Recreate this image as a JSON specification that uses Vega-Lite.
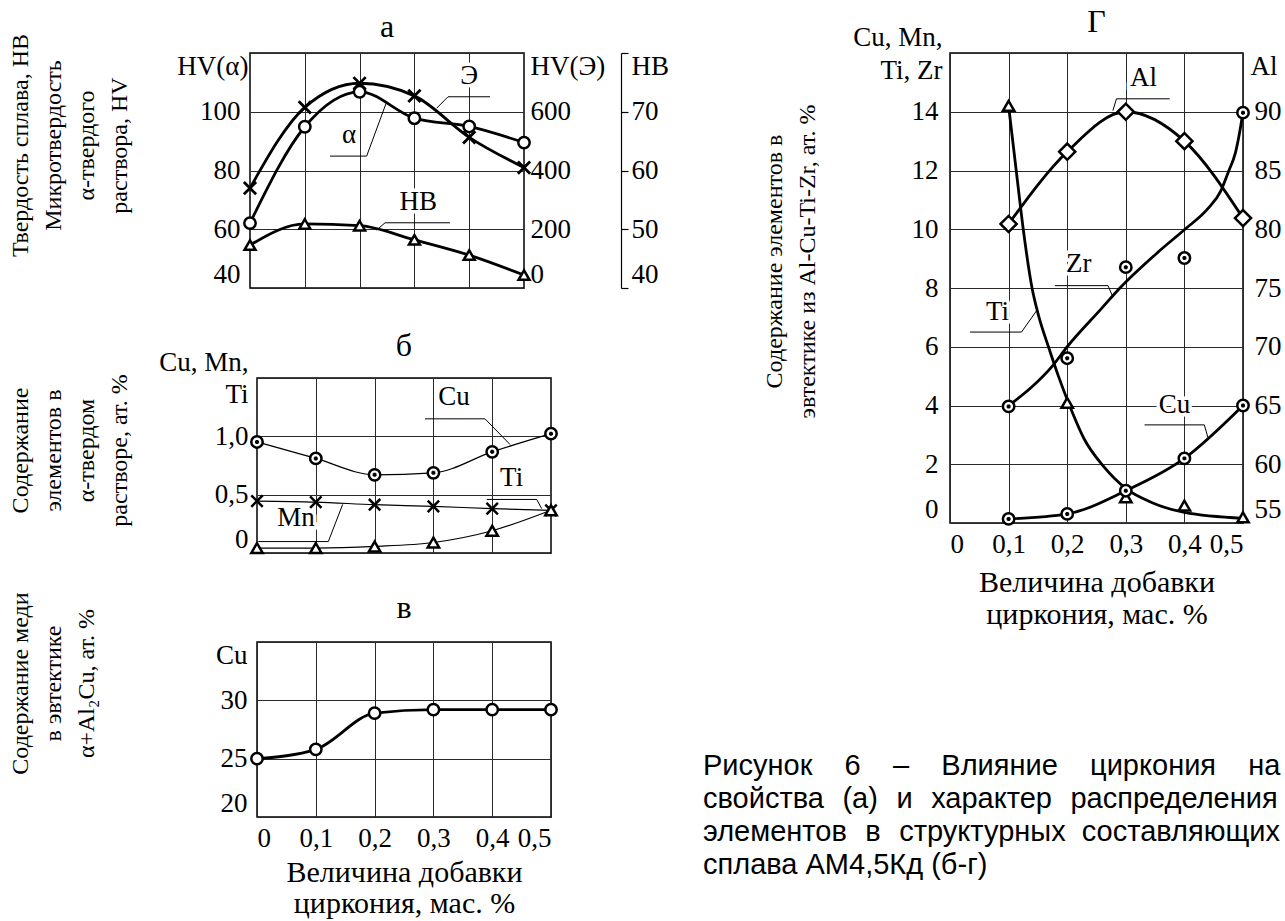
{
  "$schema": "https://vega.github.io/schema/vega-lite/v6.json",
  "autosize": {"type": "none"},
  "padding": {"left": 250, "top": 53, "right": 1035, "bottom": 868},
  "background": "white",
  "bounds": "flush",
  "spacing": 589,
  "config": {
    "font": "Liberation Serif",
    "view": {"stroke": "black", "strokeWidth": 1.5},
    "axis": {
      "labelFont": "Liberation Serif", "labelFontSize": 27, "labelColor": "black",
      "titleFont": "Liberation Serif", "titleFontSize": 24, "titleColor": "black", "titleFontWeight": "normal",
      "domain": false, "ticks": false, "gridColor": "#2a2a2a", "gridWidth": 1, "gridOpacity": 1,
      "labelOverlap": false, "labelBound": false
    },
    "title": {"font": "Liberation Serif", "fontSize": 32, "fontWeight": "normal", "color": "black", "frame": "group", "baseline": "bottom"}
  },
  "datasets": {
    "hardness": [
      {"x": 0, "hva": 62.1, "hve": 340, "hb": 47.3},
      {"x": 0.1, "hva": 94.9, "hve": 615, "hb": 50.9},
      {"x": 0.2, "hva": 106.8, "hve": 697, "hb": 50.6},
      {"x": 0.3, "hva": 97.8, "hve": 654, "hb": 48.2},
      {"x": 0.4, "hva": 95.0, "hve": 513, "hb": 45.6},
      {"x": 0.5, "hva": 89.5, "hve": 410, "hb": 42.2}
    ],
    "leadA": [
      {"g": "Э", "x": 0.3406, "y": 101.2}, {"g": "Э", "x": 0.3613, "y": 105.1}, {"g": "Э", "x": 0.438, "y": 105.1},
      {"g": "α", "x": 0.146, "y": 84.9}, {"g": "α", "x": 0.2129, "y": 84.9}, {"g": "α", "x": 0.2494, "y": 103.4},
      {"g": "HB", "x": 0.231, "y": 59.7}, {"g": "HB", "x": 0.2464, "y": 62.2}, {"g": "HB", "x": 0.365, "y": 62.2}
    ],
    "labA": [
      {"t": "Э", "x": 0.4, "y": 112.2},
      {"t": "α", "x": 0.181, "y": 92.1},
      {"t": "HB", "x": 0.307, "y": 69.3}
    ],
    "solid": [
      {"s": "Cu", "x": 0, "v": 0.952}, {"s": "Cu", "x": 0.1, "v": 0.811}, {"s": "Cu", "x": 0.2, "v": 0.670},
      {"s": "Cu", "x": 0.3, "v": 0.687}, {"s": "Cu", "x": 0.4, "v": 0.867}, {"s": "Cu", "x": 0.5, "v": 1.023},
      {"s": "Mn", "x": 0, "v": 0.445}, {"s": "Mn", "x": 0.1, "v": 0.436}, {"s": "Mn", "x": 0.2, "v": 0.414},
      {"s": "Mn", "x": 0.3, "v": 0.400}, {"s": "Mn", "x": 0.4, "v": 0.380}, {"s": "Mn", "x": 0.5, "v": 0.366},
      {"s": "Ti", "x": 0, "v": 0.042}, {"s": "Ti", "x": 0.1, "v": 0.042}, {"s": "Ti", "x": 0.2, "v": 0.056},
      {"s": "Ti", "x": 0.3, "v": 0.090}, {"s": "Ti", "x": 0.4, "v": 0.191}, {"s": "Ti", "x": 0.5, "v": 0.366}
    ],
    "leadB": [
      {"g": "Cu", "x": 0.2857, "y": 1.150}, {"g": "Cu", "x": 0.3878, "y": 1.150}, {"g": "Cu", "x": 0.4303, "y": 0.930},
      {"g": "Ti", "x": 0.3906, "y": 0.459}, {"g": "Ti", "x": 0.4757, "y": 0.459}, {"g": "Ti", "x": 0.4842, "y": 0.380},
      {"g": "Mn", "x": 0.0022, "y": 0.098}, {"g": "Mn", "x": 0.1213, "y": 0.098}, {"g": "Mn", "x": 0.1457, "y": 0.417}
    ],
    "labB": [
      {"t": "Cu", "x": 0.335, "y": 1.338},
      {"t": "Ti", "x": 0.433, "y": 0.645},
      {"t": "Mn", "x": 0.0663, "y": 0.298}
    ],
    "eutCu": [
      {"x": 0, "v": 25.0}, {"x": 0.1, "v": 25.8}, {"x": 0.2, "v": 28.9},
      {"x": 0.3, "v": 29.2}, {"x": 0.4, "v": 29.2}, {"x": 0.5, "v": 29.2}
    ],
    "markG": [
      {"s": "Ti", "x": 0.1, "v": 14.2}, {"s": "Ti", "x": 0.2, "v": 4.09}, {"s": "Ti", "x": 0.3, "v": 0.875}, {"s": "Ti", "x": 0.4, "v": 0.59}, {"s": "Ti", "x": 0.5, "v": 0.19},
      {"s": "Zr", "x": 0.1, "v": 3.97}, {"s": "Zr", "x": 0.2, "v": 5.61}, {"s": "Zr", "x": 0.3, "v": 8.71}, {"s": "Zr", "x": 0.4, "v": 9.02}, {"s": "Zr", "x": 0.5, "v": 13.97},
      {"s": "Cu", "x": 0.1, "v": 0.14}, {"s": "Cu", "x": 0.2, "v": 0.31}, {"s": "Cu", "x": 0.3, "v": 1.1}, {"s": "Cu", "x": 0.4, "v": 2.2}, {"s": "Cu", "x": 0.5, "v": 4.0},
      {"s": "Al", "x": 0.1, "v": 80.45}, {"s": "Al", "x": 0.2, "v": 86.6}, {"s": "Al", "x": 0.3, "v": 90.0}, {"s": "Al", "x": 0.4, "v": 87.5}, {"s": "Al", "x": 0.5, "v": 80.95}
    ],
    "curveG": [
      {"s": "Ti", "x": 0.1, "v": 14.2}, {"s": "Ti", "x": 0.113, "v": 12.0}, {"s": "Ti", "x": 0.125, "v": 10.0},
      {"s": "Ti", "x": 0.14, "v": 8.0}, {"s": "Ti", "x": 0.152, "v": 7.0}, {"s": "Ti", "x": 0.168, "v": 6.0},
      {"s": "Ti", "x": 0.185, "v": 5.0}, {"s": "Ti", "x": 0.204, "v": 4.0}, {"s": "Ti", "x": 0.229, "v": 2.86},
      {"s": "Ti", "x": 0.261, "v": 1.95}, {"s": "Ti", "x": 0.301, "v": 1.16}, {"s": "Ti", "x": 0.344, "v": 0.70},
      {"s": "Ti", "x": 0.4, "v": 0.36}, {"s": "Ti", "x": 0.5, "v": 0.16},
      {"s": "Zr", "x": 0.1, "v": 4.0}, {"s": "Zr", "x": 0.139, "v": 4.62}, {"s": "Zr", "x": 0.175, "v": 5.35},
      {"s": "Zr", "x": 0.2, "v": 6.0}, {"s": "Zr", "x": 0.258, "v": 7.29}, {"s": "Zr", "x": 0.29, "v": 8.0},
      {"s": "Zr", "x": 0.355, "v": 9.22}, {"s": "Zr", "x": 0.401, "v": 10.0}, {"s": "Zr", "x": 0.44, "v": 10.7},
      {"s": "Zr", "x": 0.462, "v": 11.3}, {"s": "Zr", "x": 0.476, "v": 12.0}, {"s": "Zr", "x": 0.487, "v": 12.6},
      {"s": "Zr", "x": 0.496, "v": 13.5}, {"s": "Zr", "x": 0.5, "v": 14.0}
    ],
    "leadG": [
      {"g": "Al", "x": 0.278, "y": 14.04}, {"g": "Al", "x": 0.284, "y": 14.44}, {"g": "Al", "x": 0.375, "y": 14.44},
      {"g": "Zr", "x": 0.1789, "y": 8.08}, {"g": "Zr", "x": 0.2697, "y": 8.08}, {"g": "Zr", "x": 0.278, "y": 7.69},
      {"g": "Ti", "x": 0.034, "y": 6.5}, {"g": "Ti", "x": 0.122, "y": 6.5}, {"g": "Ti", "x": 0.150, "y": 7.29},
      {"g": "Cu", "x": 0.332, "y": 3.34}, {"g": "Cu", "x": 0.434, "y": 3.34}, {"g": "Cu", "x": 0.44, "y": 2.92}
    ],
    "labG": [
      {"t": "Al", "x": 0.330, "y": 15.16},
      {"t": "Zr", "x": 0.2198, "y": 8.82},
      {"t": "Ti", "x": 0.081, "y": 7.19},
      {"t": "Cu", "x": 0.383, "y": 4.02}
    ],
    "caption": [
      {"line": 1, "text": "Рисунок\u00a0\u00a0\u00a0\u00a06\u00a0\u00a0\u00a0\u00a0–\u00a0\u00a0\u00a0\u00a0Влияние\u00a0\u00a0\u00a0\u00a0циркония\u00a0\u00a0\u00a0\u00a0на"},
      {"line": 2, "text": "свойства\u00a0\u00a0\u200a(а)\u00a0\u00a0\u200aи\u00a0\u00a0\u200aхарактер\u00a0\u00a0\u200aраспределения"},
      {"line": 3, "text": "элементов\u00a0\u00a0\u200aв\u00a0\u00a0\u200aструктурных\u00a0\u00a0составляющих"},
      {"line": 4, "text": "сплава АМ4,5Кд (б-г)"}
    ]
  },
  "vconcat": [
    {
      "hconcat": [
        {
          "vconcat": [
            {
              "title": {"text": "а", "offset": -11},
              "width": 274,
              "height": 235,
              "encoding": {
                "x": {"field": "x", "type": "quantitative", "scale": {"domain": [0, 0.5], "nice": false, "zero": false},
                      "axis": {"values": [0.1, 0.2, 0.3, 0.4], "grid": true, "labels": false, "title": null}}
              },
              "resolve": {"scale": {"y": "independent"}},
              "layer": [
                {
                  "layer": [
                    {
                      "data": {"name": "labA"},
                      "mark": {"type": "text", "font": "Liberation Serif", "fontSize": 27, "align": "center", "baseline": "middle", "color": "white", "stroke": "white", "strokeWidth": 7},
                      "encoding": {
                        "y": {"field": "y", "type": "quantitative", "scale": {"domain": [40, 120], "nice": false, "zero": false},
                              "axis": {"orient": "left", "values": [40, 60, 80, 100, 120], "grid": true, "labelFlush": true,
                                       "labelExpr": "datum.value == 120 ? 'HV(α)' : datum.label",
                                       "labelPadding": {"condition": {"test": "datum.value == 120", "value": 2}, "value": 10},
                                       "title": ["Твердость сплава, НВ", "Микротвердость", "α-твердого", "раствора, HV"],
                                       "titleX": -242, "titleY": 92, "titleAngle": -90, "titleAlign": "center", "titleBaseline": "top", "titleLineHeight": 33}},
                        "text": {"field": "t"}
                      }
                    },
                    {
                      "data": {"name": "leadA"},
                      "mark": {"type": "line", "color": "black", "strokeWidth": 1},
                      "encoding": {"y": {"field": "y", "type": "quantitative", "scale": {"domain": [40, 120], "nice": false, "zero": false}}, "detail": {"field": "g"}}
                    },
                    {
                      "data": {"name": "hardness"},
                      "mark": {"type": "line", "interpolate": "monotone", "color": "black", "strokeWidth": 2.8},
                      "encoding": {"y": {"field": "hva", "type": "quantitative", "scale": {"domain": [40, 120], "nice": false, "zero": false}}}
                    },
                    {
                      "data": {"name": "hardness"},
                      "mark": {"type": "point", "shape": "circle", "size": 130, "filled": true, "fill": "white", "fillOpacity": 1, "stroke": "black", "strokeWidth": 2.5, "opacity": 1},
                      "encoding": {"y": {"field": "hva", "type": "quantitative", "scale": {"domain": [40, 120], "nice": false, "zero": false}}}
                    },
                    {
                      "data": {"name": "labA"},
                      "mark": {"type": "text", "font": "Liberation Serif", "fontSize": 27, "align": "center", "baseline": "middle", "color": "black"},
                      "encoding": {"y": {"field": "y", "type": "quantitative", "scale": {"domain": [40, 120], "nice": false, "zero": false}}, "text": {"field": "t"}}
                    }
                  ]
                },
                {
                  "layer": [
                    {
                      "data": {"name": "hardness"},
                      "mark": {"type": "line", "interpolate": "monotone", "color": "black", "strokeWidth": 2.8},
                      "encoding": {"y": {"field": "hve", "type": "quantitative", "scale": {"domain": [0, 800], "nice": false, "zero": false},
                                         "axis": {"orient": "right", "values": [0, 200, 400, 600, 800], "grid": false, "labelFlush": true,
                                                  "labelExpr": "datum.value == 800 ? 'HV(Э)' : datum.label", "labelPadding": 6, "title": null}}}
                    },
                    {
                      "data": {"name": "hardness"},
                      "mark": {"type": "point", "shape": "M-1,-1L1,1M-1,1L1,-1", "size": 150, "filled": false, "stroke": "black", "strokeWidth": 2.8, "opacity": 1},
                      "encoding": {"y": {"field": "hve", "type": "quantitative", "scale": {"domain": [0, 800], "nice": false, "zero": false}}}
                    }
                  ]
                },
                {
                  "layer": [
                    {
                      "data": {"name": "hardness"},
                      "mark": {"type": "line", "interpolate": "monotone", "color": "black", "strokeWidth": 2.8},
                      "encoding": {"y": {"field": "hb", "type": "quantitative", "scale": {"domain": [40, 80], "nice": false, "zero": false},
                                         "axis": {"orient": "right", "offset": 97, "values": [40, 50, 60, 70, 80], "grid": false,
                                                  "domain": true, "domainColor": "black", "domainWidth": 1.2,
                                                  "ticks": true, "tickSize": 7, "tickColor": "black", "tickWidth": 1.2,
                                                  "labelFlush": true, "labelExpr": "datum.value == 80 ? 'HB' : datum.label", "labelPadding": 3, "title": null}}}
                    },
                    {
                      "data": {"name": "hardness"},
                      "mark": {"type": "point", "shape": "triangle-up", "size": 120, "filled": true, "fill": "white", "fillOpacity": 1, "stroke": "black", "strokeWidth": 2.5, "opacity": 1},
                      "encoding": {"y": {"field": "hb", "type": "quantitative", "scale": {"domain": [40, 80], "nice": false, "zero": false}}}
                    }
                  ]
                }
              ]
            },
            {
              "hconcat": [
                {"width": 7, "height": 175, "data": {"values": []}, "mark": {"type": "point", "opacity": 0}, "view": {"stroke": null}},
                {
                  "title": {"text": "б", "offset": -15},
                  "width": 294,
                  "height": 175,
                  "encoding": {
                    "x": {"field": "x", "type": "quantitative", "scale": {"domain": [0, 0.5], "nice": false, "zero": false},
                          "axis": {"values": [0.1, 0.2, 0.3, 0.4], "grid": true, "labels": false, "title": null}}
                  },
                  "layer": [
                    {
                      "data": {"name": "labB"},
                      "mark": {"type": "text", "font": "Liberation Serif", "fontSize": 27, "align": "center", "baseline": "middle", "color": "white", "stroke": "white", "strokeWidth": 7},
                      "encoding": {
                        "y": {"field": "y", "type": "quantitative", "scale": {"domain": [0, 1.5], "nice": false, "zero": false},
                              "axis": {"orient": "left", "values": [0, 0.5, 1, 1.5], "grid": true,
                                       "labelExpr": "datum.value == 1.5 ? ['Cu, Mn,', 'Ti'] : datum.value == 0 ? '0' : replace(format(datum.value, '.1f'), '.', ',')",
                                       "labelBaseline": {"condition": {"test": "datum.value == 0", "value": "bottom"}, "value": "middle"},
                                       "labelOffset": {"condition": {"test": "datum.value == 1.5", "value": -16}, "value": 0},
                                       "labelLineHeight": 32, "labelPadding": 9,
                                       "title": ["Содержание", "элементов в", "α-твердом", "растворе, ат. %"],
                                       "titleX": -249, "titleY": 72, "titleAngle": -90, "titleAlign": "center", "titleBaseline": "top", "titleLineHeight": 33}},
                        "text": {"field": "t"}
                      }
                    },
                    {
                      "data": {"name": "leadB"},
                      "mark": {"type": "line", "color": "black", "strokeWidth": 1},
                      "encoding": {"y": {"field": "y", "type": "quantitative"}, "detail": {"field": "g"}}
                    },
                    {
                      "data": {"name": "solid"},
                      "mark": {"type": "line", "interpolate": "monotone", "color": "black", "strokeWidth": 1.2},
                      "encoding": {"y": {"field": "v", "type": "quantitative"}, "detail": {"field": "s"}}
                    },
                    {
                      "data": {"name": "solid"},
                      "mark": {"type": "point", "size": 130, "filled": true, "fill": "white", "fillOpacity": 1, "stroke": "black", "strokeWidth": 2.5, "opacity": 1},
                      "encoding": {
                        "y": {"field": "v", "type": "quantitative"},
                        "shape": {"field": "s", "type": "nominal", "legend": null,
                                  "scale": {"domain": ["Cu", "Mn", "Ti"],
                                            "range": ["M-1,0A1,1,0,1,1,1,0A1,1,0,1,1,-1,0ZM-0.35,0L0.35,0M0,-0.35L0,0.35", "M-1,-1L1,1M-1,1L1,-1", "triangle-up"]}}
                      }
                    },
                    {
                      "data": {"name": "labB"},
                      "mark": {"type": "text", "font": "Liberation Serif", "fontSize": 27, "align": "center", "baseline": "middle", "color": "black"},
                      "encoding": {"y": {"field": "y", "type": "quantitative"}, "text": {"field": "t"}}
                    }
                  ]
                }
              ],
              "spacing": 0,
              "bounds": "flush"
            }
          ],
          "spacing": 90,
          "bounds": "flush"
        },
        {
          "title": {"text": "Г", "offset": -16},
          "width": 293,
          "height": 470,
          "encoding": {
            "x": {"field": "x", "type": "quantitative", "scale": {"domain": [0, 0.5], "nice": false, "zero": false},
                  "axis": {"values": [0, 0.1, 0.2, 0.3, 0.4, 0.5], "grid": true, "labelFlush": true, "labelPadding": 8,
                           "labelExpr": "datum.value == 0 ? '0' : replace(format(datum.value, '.1f'), '.', ',')",
                           "title": ["Величина добавки", "циркония, мас. %"], "titleFontSize": 30, "titlePadding": 10, "titleLineHeight": 32}}
          },
          "resolve": {"scale": {"y": "independent"}},
          "layer": [
            {
              "layer": [
                {
                  "data": {"name": "labG"},
                  "mark": {"type": "text", "font": "Liberation Serif", "fontSize": 27, "align": "center", "baseline": "middle", "color": "white", "stroke": "white", "strokeWidth": 7},
                  "encoding": {
                    "y": {"field": "y", "type": "quantitative", "scale": {"domain": [0, 16], "nice": false, "zero": false},
                          "axis": {"orient": "left", "values": [0, 2, 4, 6, 8, 10, 12, 14, 16], "grid": true,
                                   "labelExpr": "datum.value == 16 ? ['Cu, Mn,', 'Ti, Zr'] : datum.label",
                                   "labelBaseline": {"condition": {"test": "datum.value == 0", "value": "bottom"}, "value": "middle"},
                                   "labelOffset": {"condition": {"test": "datum.value == 16", "value": -16}, "value": 0},
                                   "labelLineHeight": 33,
                                   "labelPadding": {"condition": {"test": "datum.value == 16", "value": 8}, "value": 12},
                                   "title": ["Содержание элементов в", "эвтектике из Al-Cu-Ti-Zr, ат. %"],
                                   "titleX": -188, "titleY": 208, "titleAngle": -90, "titleAlign": "center", "titleBaseline": "top", "titleLineHeight": 33}},
                    "text": {"field": "t"}
                  }
                },
                {
                  "data": {"name": "leadG"},
                  "mark": {"type": "line", "color": "black", "strokeWidth": 1},
                  "encoding": {"y": {"field": "y", "type": "quantitative", "scale": {"domain": [0, 16], "nice": false, "zero": false}}, "detail": {"field": "g"}}
                },
                {
                  "data": {"name": "curveG"},
                  "mark": {"type": "line", "interpolate": "monotone", "color": "black", "strokeWidth": 2.8},
                  "encoding": {"y": {"field": "v", "type": "quantitative", "scale": {"domain": [0, 16], "nice": false, "zero": false}}, "detail": {"field": "s"}}
                },
                {
                  "data": {"name": "markG"},
                  "transform": [{"filter": "datum.s == 'Cu'"}],
                  "mark": {"type": "line", "interpolate": "monotone", "color": "black", "strokeWidth": 2.8},
                  "encoding": {"y": {"field": "v", "type": "quantitative", "scale": {"domain": [0, 16], "nice": false, "zero": false}}}
                },
                {
                  "data": {"name": "markG"},
                  "transform": [{"filter": "datum.s != 'Al'"}],
                  "mark": {"type": "point", "size": 130, "filled": true, "fill": "white", "fillOpacity": 1, "stroke": "black", "strokeWidth": 2.5, "opacity": 1},
                  "encoding": {
                    "y": {"field": "v", "type": "quantitative", "scale": {"domain": [0, 16], "nice": false, "zero": false}},
                    "shape": {"field": "s", "type": "nominal", "legend": null,
                              "scale": {"domain": ["Cu", "Ti", "Zr"], "range": ["M-1,-1L1,1M-1,1L1,-1", "triangle-up", "circle"]}}
                  }
                },
                {
                  "data": {"name": "labG"},
                  "mark": {"type": "text", "font": "Liberation Serif", "fontSize": 27, "align": "center", "baseline": "middle", "color": "black"},
                  "encoding": {"y": {"field": "y", "type": "quantitative", "scale": {"domain": [0, 16], "nice": false, "zero": false}}, "text": {"field": "t"}}
                }
              ]
            },
            {
              "layer": [
                {
                  "data": {"name": "markG"},
                  "transform": [{"filter": "datum.s == 'Al'"}],
                  "mark": {"type": "line", "interpolate": "monotone", "color": "black", "strokeWidth": 2.8},
                  "encoding": {"y": {"field": "v", "type": "quantitative", "scale": {"domain": [55, 95], "nice": false, "zero": false},
                                     "axis": {"orient": "right", "values": [55, 60, 65, 70, 75, 80, 85, 90, 95], "grid": false, "labelFlush": true,
                                              "labelExpr": "datum.value == 95 ? 'Al' : datum.label",
                                              "labelPadding": {"condition": {"test": "datum.value == 95", "value": 7}, "value": 11}, "title": null}}}
                },
                {
                  "data": {"name": "markG"},
                  "transform": [{"filter": "datum.s == 'Al'"}],
                  "mark": {"type": "point", "shape": "diamond", "size": 260, "filled": true, "fill": "white", "fillOpacity": 1, "stroke": "black", "strokeWidth": 2.5, "opacity": 1},
                  "encoding": {"y": {"field": "v", "type": "quantitative", "scale": {"domain": [55, 95], "nice": false, "zero": false}}}
                }
              ]
            }
          ]
        }
      ],
      "spacing": 700,
      "bounds": "flush"
    },
    {
      "hconcat": [
        {
          "hconcat": [
            {"width": 7, "height": 175, "data": {"values": []}, "mark": {"type": "point", "opacity": 0}, "view": {"stroke": null}},
            {
              "title": {"text": "в", "offset": -33},
              "width": 294,
              "height": 175,
              "data": {"name": "eutCu"},
              "encoding": {
                "x": {"field": "x", "type": "quantitative", "scale": {"domain": [0, 0.5], "nice": false, "zero": false},
                      "axis": {"values": [0, 0.1, 0.2, 0.3, 0.4, 0.5], "grid": true, "labelFlush": true, "labelPadding": 8,
                               "labelExpr": "datum.value == 0 ? '0' : replace(format(datum.value, '.1f'), '.', ',')",
                               "title": ["Величина добавки", "циркония, мас. %"], "titleFontSize": 30, "titlePadding": 6, "titleLineHeight": 31}},
                "y": {"field": "v", "type": "quantitative", "scale": {"domain": [20, 35], "nice": false, "zero": false},
                      "axis": {"orient": "left", "values": [20, 25, 30, 35], "grid": true, "labelFlush": true,
                               "labelExpr": "datum.value == 35 ? 'Cu' : datum.label", "labelPadding": 10,
                               "title": ["Содержание меди", "в эвтектике", "α+Al₂Cu, ат. %"],
                               "titleX": -249, "titleY": 41, "titleAngle": -90, "titleAlign": "center", "titleBaseline": "top", "titleLineHeight": 33}}
              },
              "layer": [
                {"mark": {"type": "line", "interpolate": "monotone", "color": "black", "strokeWidth": 2.8}},
                {"mark": {"type": "point", "shape": "circle", "size": 130, "filled": true, "fill": "white", "fillOpacity": 1, "stroke": "black", "strokeWidth": 2.5, "opacity": 1}}
              ]
            }
          ],
          "spacing": 0,
          "bounds": "flush"
        },
        {
          "width": 577,
          "height": 259,
          "view": {"stroke": null},
          "data": {"name": "caption"},
          "mark": {"type": "text", "font": "Liberation Sans", "fontSize": 29, "align": "left", "baseline": "alphabetic", "color": "black"},
          "encoding": {
            "x": {"datum": 0, "type": "quantitative", "scale": {"domain": [0, 1]}, "axis": null},
            "y": {"field": "line", "type": "quantitative", "scale": {"domain": [-3.03, 4.82], "reverse": true, "nice": false, "zero": false}, "axis": null},
            "text": {"field": "text"}
          }
        }
      ],
      "spacing": 453,
      "bounds": "flush"
    }
  ]
}
